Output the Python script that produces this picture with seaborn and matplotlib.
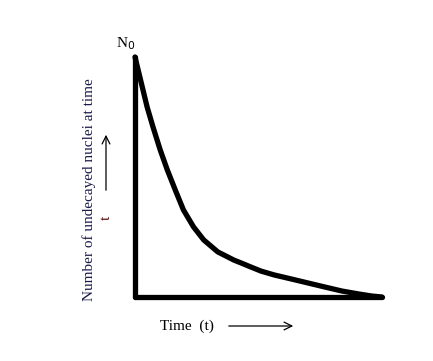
import matplotlib
matplotlib.use("Agg")
import matplotlib.pyplot as plt
import seaborn as sns
import pandas as pd

# decay curve (time in arbitrary units, N in % of N0)
time = [0, 0.49, 0.73, 1.02, 1.31, 1.63, 1.96, 2.37, 2.78, 3.35, 4.0,
        4.29, 4.69, 5.10, 5.63, 6.33, 7.02, 7.67, 8.37, 9.06, 9.59, 10]
nuclei = [100, 79.2, 70.8, 61.3, 52.9, 44.6, 36.3, 29.2, 23.8, 18.8, 15.4,
          14.2, 12.5, 10.8, 9.2, 7.5, 5.8, 4.2, 2.5, 1.25, 0.4, 0]

df = pd.DataFrame({"time": time, "nuclei": nuclei})

sns.set_theme(style="white")
plt.rcParams['font.family'] = ['Liberation Serif', 'DejaVu Serif']

W, H = 433, 361
fig = plt.figure(figsize=(W / 100, H / 100), dpi=100)
ax = fig.add_axes([135 / W, (H - 297) / H, (382 - 135) / W, (297 - 57) / H])

sns.lineplot(data=df, x="time", y="nuclei", ax=ax, color="black",
             linewidth=3.8, clip_on=False, solid_joinstyle="round",
             solid_capstyle="round")
ax.set_xlim(0, 10)
ax.set_ylim(0, 100)
ax.set_xticks([])
ax.set_yticks([])
ax.set_xlabel("")
ax.set_ylabel("")
for s in ["top", "right"]:
    ax.spines[s].set_visible(False)
for s in ["left", "bottom"]:
    ax.spines[s].set_linewidth(3.8)
    ax.spines[s].set_color("black")
    ax.spines[s].set_capstyle("round")

fs = 11
fig.text(116 / W, 1 - 44 / H, r"N$_0$", fontsize=fs, color="black", va="center")
fig.text(89 / W, 1 - 190 / H, "Number of undecayed nuclei at time",
         rotation=90, fontsize=fs, color="#1a1a48", ha="center", va="center")
fig.text(106 / W, 1 - 218 / H, "t", rotation=90, fontsize=fs,
         color="#5a1010", ha="center", va="center")
fig.text(160 / W, 1 - 326 / H, "Time  (t)", fontsize=fs, color="black",
         ha="left", va="center")

# arrows
ax.annotate("", xy=(106 / W, 1 - 132 / H), xytext=(106 / W, 1 - 193 / H),
            xycoords="figure fraction", textcoords="figure fraction",
            arrowprops=dict(arrowstyle="->", lw=0.9, color="black",
                            mutation_scale=14))
ax.annotate("", xy=(296 / W, 1 - 326 / H), xytext=(226 / W, 1 - 326 / H),
            xycoords="figure fraction", textcoords="figure fraction",
            arrowprops=dict(arrowstyle="->", lw=0.9, color="black",
                            mutation_scale=14))

fig.savefig("out.png", dpi=100, facecolor="white")
